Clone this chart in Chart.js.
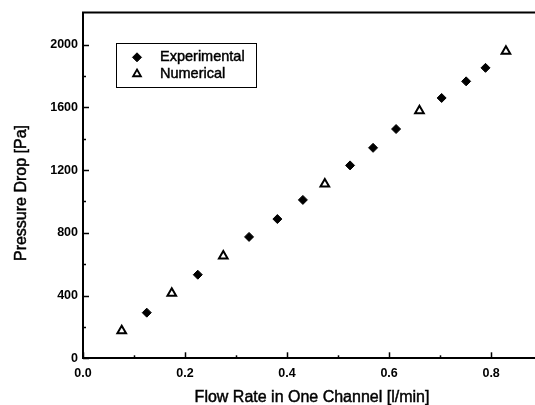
<!DOCTYPE html>
<html><head><meta charset="utf-8">
<script src="https://cdn.jsdelivr.net/npm/chart.js@4/dist/chart.umd.min.js"></script>
<style>html,body{margin:0;padding:0;background:#fff}#wrap{width:535px;height:405px}</style>
</head><body><div id="wrap"><canvas id="c" width="535" height="405"></canvas></div>
<script>
const expFlow = [0.125, 0.225, 0.3255, 0.381, 0.431, 0.5235, 0.5686, 0.6137, 0.703, 0.751, 0.789];
const expDrop = [291, 533, 774, 888, 1010, 1230, 1342, 1462, 1660, 1766, 1852];
const numFlow = [0.0759, 0.174, 0.275, 0.474, 0.6595, 0.829];
const numDrop = [175, 415, 652, 1111, 1578, 1958];
const xTickValues = [0, 0.1, 0.2, 0.3, 0.4, 0.5, 0.6, 0.7, 0.8];
const yTickValues = [0, 200, 400, 600, 800, 1000, 1200, 1400, 1600, 1800, 2000, 2200];
const xTitle = 'Flow Rate in One Channel [l/min]';
const yTitle = 'Pressure Drop [Pa]';
const seriesNames = ['Experimental', 'Numerical'];

const FONT = '"Liberation Sans", Arial, Helvetica, sans-serif';

function heavyText(ctx, text, x, y) {
  ctx.fillText(text, x, y);
  ctx.lineWidth = 0.45;
  ctx.strokeText(text, x, y);
}

const framePlugin = {
  id: 'frame',
  afterDraw(chart) {
    const ctx = chart.ctx;
    const a = chart.chartArea;
    const xs = chart.scales.x, ys = chart.scales.y;
    ctx.save();
    ctx.strokeStyle = '#000';
    ctx.fillStyle = '#000';
    ctx.lineWidth = 2;
    ctx.beginPath();
    ctx.moveTo(a.left - 1, a.top);
    ctx.lineTo(a.right, a.top);
    ctx.stroke();
    ctx.lineWidth = 1.5;
    xTickValues.forEach(v => {
      const px = Math.round(xs.getPixelForValue(v)) + 0.5;
      const major = Math.abs(Math.round(v * 10) % 2) === 0;
      ctx.beginPath();
      ctx.moveTo(px, a.bottom);
      ctx.lineTo(px, a.bottom - (major ? 6 : 3));
      ctx.stroke();
    });
    yTickValues.forEach(v => {
      if (v >= 2200) return;
      const py = Math.round(ys.getPixelForValue(v)) + 0.5;
      const major = v % 400 === 0;
      ctx.beginPath();
      ctx.moveTo(a.left, py);
      ctx.lineTo(a.left + (major ? 6 : 3), py);
      ctx.stroke();
    });
    ctx.font = '16px ' + FONT;
    ctx.textAlign = 'center';
    ctx.textBaseline = 'middle';
    heavyText(ctx, xTitle, 312, 397.5);
    ctx.save();
    ctx.translate(22, 193);
    ctx.rotate(-Math.PI / 2);
    heavyText(ctx, yTitle, 0, 0);
    ctx.restore();
    ctx.lineWidth = 1;
    ctx.strokeRect(116.5, 43.5, 140, 44);
    const dx = 137, dy1 = 57.3, dy2 = 74;
    ctx.beginPath();
    ctx.moveTo(dx - 4.5, dy1); ctx.lineTo(dx, dy1 - 4.5); ctx.lineTo(dx + 4.5, dy1); ctx.lineTo(dx, dy1 + 4.5);
    ctx.closePath();
    ctx.fill();
    ctx.stroke();
    const r = 4.5;
    ctx.lineWidth = 1.8;
    ctx.beginPath();
    ctx.moveTo(dx, dy2 - r);
    ctx.lineTo(dx + r * Math.sin(2 * Math.PI / 3), dy2 - r * Math.cos(2 * Math.PI / 3));
    ctx.lineTo(dx + r * Math.sin(4 * Math.PI / 3), dy2 - r * Math.cos(4 * Math.PI / 3));
    ctx.closePath();
    ctx.fillStyle = '#fff';
    ctx.fill();
    ctx.stroke();
    ctx.fillStyle = '#000';
    ctx.font = '14.5px ' + FONT;
    ctx.textAlign = 'left';
    heavyText(ctx, seriesNames[0], 160, dy1);
    heavyText(ctx, seriesNames[1], 160, dy2);
    ctx.restore();
  }
};

new Chart(document.getElementById('c'), {
  type: 'scatter',
  data: {
    datasets: [
      {
        label: seriesNames[0],
        data: expFlow.map((x, i) => ({x, y: expDrop[i]})),
        pointStyle: 'rectRot',
        radius: 4.5,
        backgroundColor: '#000',
        borderColor: '#000',
        borderWidth: 1
      },
      {
        label: seriesNames[1],
        data: numFlow.map((x, i) => ({x, y: numDrop[i]})),
        pointStyle: 'triangle',
        radius: 5,
        backgroundColor: '#fff',
        borderColor: '#000',
        borderWidth: 2
      }
    ]
  },
  options: {
    responsive: false,
    devicePixelRatio: 1,
    animation: false,
    layout: {autoPadding: false, padding: {top: 10, right: 0, left: 0, bottom: 0}},
    plugins: {legend: {display: false}, tooltip: {enabled: false}},
    scales: {
      x: {
        type: 'linear',
        min: 0,
        max: 0.886,
        afterBuildTicks: s => { s.ticks = xTickValues.map(v => ({value: v})); },
        afterFit: s => { s.height = 46.7; },
        grid: {display: false, drawTicks: false},
        border: {display: true, color: '#000', width: 2},
        ticks: {
          autoSkip: false,
          maxRotation: 0,
          padding: 8,
          color: '#000',
          font: {family: FONT, size: 12.5, weight: 'bold'},
          callback: v => (Math.round(v * 10) % 2 === 0 ? v.toFixed(1) : '')
        }
      },
      y: {
        type: 'linear',
        min: 0,
        max: 2205,
        afterBuildTicks: s => { s.ticks = yTickValues.map(v => ({value: v})); },
        afterFit: s => { s.width = 83; },
        grid: {display: false, drawTicks: false},
        border: {display: true, color: '#000', width: 2},
        ticks: {
          autoSkip: false,
          padding: 5,
          color: '#000',
          font: {family: FONT, size: 12.5, weight: 'bold'},
          callback: v => (v % 400 === 0 ? String(v) : '')
        }
      }
    }
  },
  plugins: [framePlugin]
});
</script>
</body></html>
